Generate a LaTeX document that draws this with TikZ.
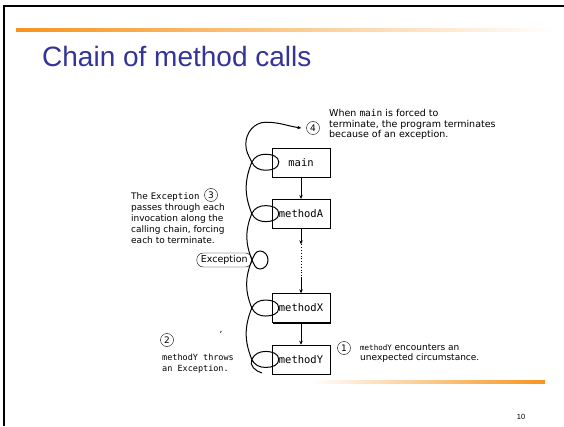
\documentclass[tikz,border=0pt]{standalone}
\usepackage{fontspec}
\setmainfont{DejaVu Sans}
\setmonofont{DejaVu Sans Mono}
\newfontfamily\titlefont{Liberation Sans}
\usetikzlibrary{matrix,arrows.meta,shadows}
\definecolor{slideorange}{RGB}{247,148,29}
\definecolor{slideblue}{RGB}{51,51,153}

\begin{document}
\begin{tikzpicture}[x=1pt,y=1pt,
  box/.style={draw, fill=white, minimum width=58pt, minimum height=29pt,
    font=\ttfamily\fontsize{10.5}{11}\selectfont,
    drop shadow={shadow xshift=1.3pt, shadow yshift=-1.3pt, fill=black, opacity=1}},
  exc/.style={draw, fill=white, rounded corners=6.5pt, minimum height=14pt, minimum width=55pt,
    inner sep=1pt, font=\fontsize{9.5}{10}\selectfont},
  num/.style={draw, circle, inner sep=0pt, minimum size=13pt, font=\fontsize{9}{10}\selectfont},
  note/.style={align=left, inner sep=0pt, font=\fontsize{9.5}{10.3}\selectfont},
  unwind/.style={line width=1pt},
  call/.style={-{Stealth[length=4pt,width=3.5pt]}, line width=0.7pt}]
  \useasboundingbox (0,0) rectangle (564,426);
  \draw[line width=2pt] (4,0) -- (4,420) -- (564,420);
  \shade[left color=slideorange, right color=white] (16,394.5) rectangle (556,397.5);
  \shade[left color=white, right color=slideorange] (310,42.5) rectangle (545,45.5);
  \node[anchor=base west, inner sep=0pt, text=slideblue,
    font=\titlefont\fontsize{28}{30}\selectfont] (title) at (42,359) {Chain of method calls};
  \node[font=\titlefont\fontsize{7.5}{9}\selectfont] (page) at (521,9) {10};

  \matrix (m) [matrix of nodes, nodes={box}, row sep=22pt, anchor=north] at (301,282)
  {
    main \\
    methodA \\[43pt]
    methodX \\
    methodY \\
  };
  \node[exc, anchor=east] (exc) at (252,166) {Exception};

  \node[num] (c4) at (313,298) {4};
  \node[note, anchor=north west] (t4) at (329,316.5)
    {When \texttt{main} is forced to\\terminate, the program terminates\\because of an exception.};
  \node[note, anchor=north west, font=\fontsize{9}{11}\selectfont] (t3) at (131,234)
    {The \texttt{Exception}\\passes through each\\invocation along the\\calling chain, forcing\\each to terminate.};
  \node[num] (c3) at (211,231) {3};
  \node[num] (c2) at (167,86) {2};
  \node[note, anchor=north west, font=\ttfamily\fontsize{8.5}{11}\selectfont] (t2) at (162,72.5)
    {methodY throws\\an Exception.};
  \node[font=\fontsize{9}{10}\selectfont] (tick) at (221,94) {,};
  \node[num] (c1) at (344,78) {1};
  \node[note, anchor=north west, font=\fontsize{9}{10}\selectfont] (t1) at (360,82)
    {\texttt{\fontsize{7.5}{10}\selectfont methodY} encounters an\\unexpected circumstance.};

  \coordinate (kM) at ([xshift=-20pt]m-1-1.west);
  \coordinate (kA) at ([xshift=-20pt]m-2-1.west);
  \coordinate (kX) at ([xshift=-20pt]m-3-1.west);
  \coordinate (kY) at ([xshift=-20pt]m-4-1.west);
  \coordinate (kE) at (exc.east);
  \coordinate (tail) at (262,53);
  \coordinate (dA) at ([yshift=-16pt]m-2-1.south);
  \coordinate (dX) at ([yshift=16pt]m-3-1.north);

  \path[call]
  (m-1-1) edge (m-2-1)
  (m-2-1) edge (dA)
  (dX)    edge (m-3-1)
  (m-3-1) edge (m-4-1)
  ;
  \draw[dotted, line width=0.8pt] (dA) -- (dX);

  \draw[unwind, -{Stealth[length=4pt,width=3.5pt]}] (tail) to[out=165,in=245] (kY)
    to[out=65,in=180] ++(14,8) to[out=0,in=90] ++(13,-8) to[out=-90,in=0] ++(-13,-8) to[out=180,in=-65] (kY)
    to[out=112,in=248] (kX)
    to[out=65,in=180] ++(14,8) to[out=0,in=90] ++(13,-8) to[out=-90,in=0] ++(-13,-8) to[out=180,in=-65] (kX)
    to[out=112,in=248] (kE)
    to[out=65,in=180] ++(8,9) to[out=0,in=90] ++(8,-9) to[out=-90,in=0] ++(-8,-9) to[out=180,in=-65] (kE)
    to[out=112,in=248] (kA)
    to[out=65,in=180] ++(14,8) to[out=0,in=90] ++(13,-8) to[out=-90,in=0] ++(-13,-8) to[out=180,in=-65] (kA)
    to[out=112,in=248] (kM)
    to[out=65,in=180] ++(14,8) to[out=0,in=90] ++(13,-8) to[out=-90,in=0] ++(-13,-8) to[out=180,in=-65] (kM)
    to[out=115,in=-90] ++(-6,18)
    to[out=90,in=180] ++(20,22)
    to[out=0,in=172] ([xshift=-5pt]c4.west);
\end{tikzpicture}
\end{document}
